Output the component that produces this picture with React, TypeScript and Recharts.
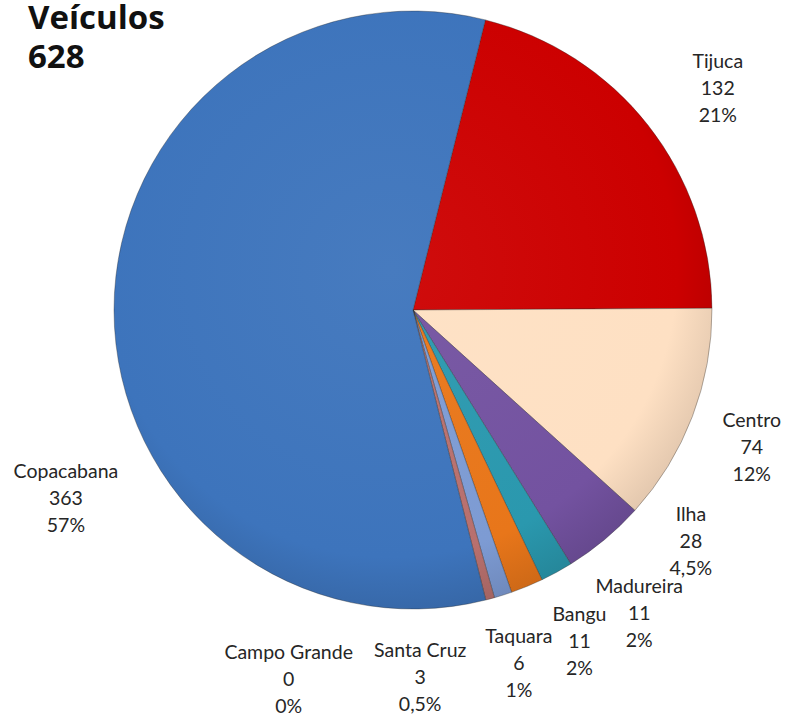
import { Cell, Pie, PieChart } from "recharts";

const bairros = [
  "Tijuca",
  "Centro",
  "Ilha",
  "Madureira",
  "Bangu",
  "Taquara",
  "Santa Cruz",
  "Campo Grande",
  "Copacabana",
];
const veiculos = [132, 74, 28, 11, 11, 6, 3, 0, 363];
const percentuais = ["21%", "12%", "4,5%", "2%", "2%", "1%", "0,5%", "0%", "57%"];

const total = 628;

const colors = [
  "#cc0000",
  "#fee0c3",
  "#7352a0",
  "#2a98ae",
  "#e8761a",
  "#7d9bd3",
  "#b8706e",
  "#8a8a8a",
  "#3d74bc",
];

// where each label block sits: angle (deg) and distance from the pie centre
const labelSpots = [
  { angle: 35.2, r: 373 },
  { angle: -23, r: 368 },
  { angle: -40.6, r: 366 },
  { angle: -53.9, r: 384 },
  { angle: -63.8, r: 377 },
  { angle: -73.6, r: 375 },
  { angle: -88.9, r: 374 },
  { angle: -108.3, r: 396 },
  { angle: -150.7, r: 398 },
];

const data = bairros.map((name, i) => ({
  name,
  value: veiculos[i],
  pct: percentuais[i],
}));

const RAD = Math.PI / 180;

function renderLabel(props: any) {
  const { cx, cy, index } = props;
  const spot = labelSpots[index];
  const x = cx + spot.r * Math.cos(spot.angle * RAD);
  const y = cy - spot.r * Math.sin(spot.angle * RAD);
  const d = data[index];
  return (
    <text
      key={`lbl-${index}`}
      x={x}
      y={y}
      textAnchor="middle"
      fill="#262626"
      fontFamily="Lato, 'Open Sans', sans-serif"
      fontSize={19.5}
    >
      <tspan x={x} y={y - 27}>
        {d.name}
      </tspan>
      <tspan x={x} y={y}>
        {d.value}
      </tspan>
      <tspan x={x} y={y + 27}>
        {d.pct}
      </tspan>
    </text>
  );
}

function shade(hex: string, k: number) {
  const n = parseInt(hex.slice(1), 16);
  const f = (c: number) =>
    Math.max(0, Math.min(255, Math.round(k < 0 ? c * (1 + k) : c + (255 - c) * k)));
  const r = f((n >> 16) & 255);
  const g = f((n >> 8) & 255);
  const b = f(n & 255);
  return `rgb(${r},${g},${b})`;
}

const titleStyle = {
  position: "absolute" as const,
  left: 28,
  fontFamily: "'Open Sans', sans-serif",
  fontWeight: 700,
  fontSize: 33,
  lineHeight: "33px",
  color: "#111",
  whiteSpace: "nowrap" as const,
};

export default function App() {
  return (
    <div style={{ position: "absolute", left: 0, top: 0, width: 785, height: 718, background: "#fff" }}>
      <PieChart width={785} height={718} margin={{ top: 0, right: 0, bottom: 0, left: 0 }}>
        <defs>
          {colors.map((c, i) => (
            <radialGradient
              key={`g-${i}`}
              id={`grad-${i}`}
              gradientUnits="userSpaceOnUse"
              cx={390}
              cy={270}
              r={350}
            >
              <stop offset="0%" stopColor={shade(c, 0.05)} />
              <stop offset="82%" stopColor={c} />
              <stop offset="100%" stopColor={shade(c, -0.12)} />
            </radialGradient>
          ))}
        </defs>
        <Pie
          data={data}
          dataKey="value"
          nameKey="name"
          cx={413}
          cy={310}
          outerRadius={299}
          startAngle={76}
          endAngle={-284}
          stroke="rgba(40,40,40,0.35)"
          strokeWidth={1}
          label={renderLabel}
          labelLine={false}
          isAnimationActive={false}
        >
          {data.map((_, index) => (
            <Cell key={`cell-${index}`} fill={`url(#grad-${index})`} />
          ))}
        </Pie>
      </PieChart>
      <div style={{ ...titleStyle, top: 0 }}>Veículos</div>
      <div style={{ ...titleStyle, top: 39 }}>{total}</div>
    </div>
  );
}
